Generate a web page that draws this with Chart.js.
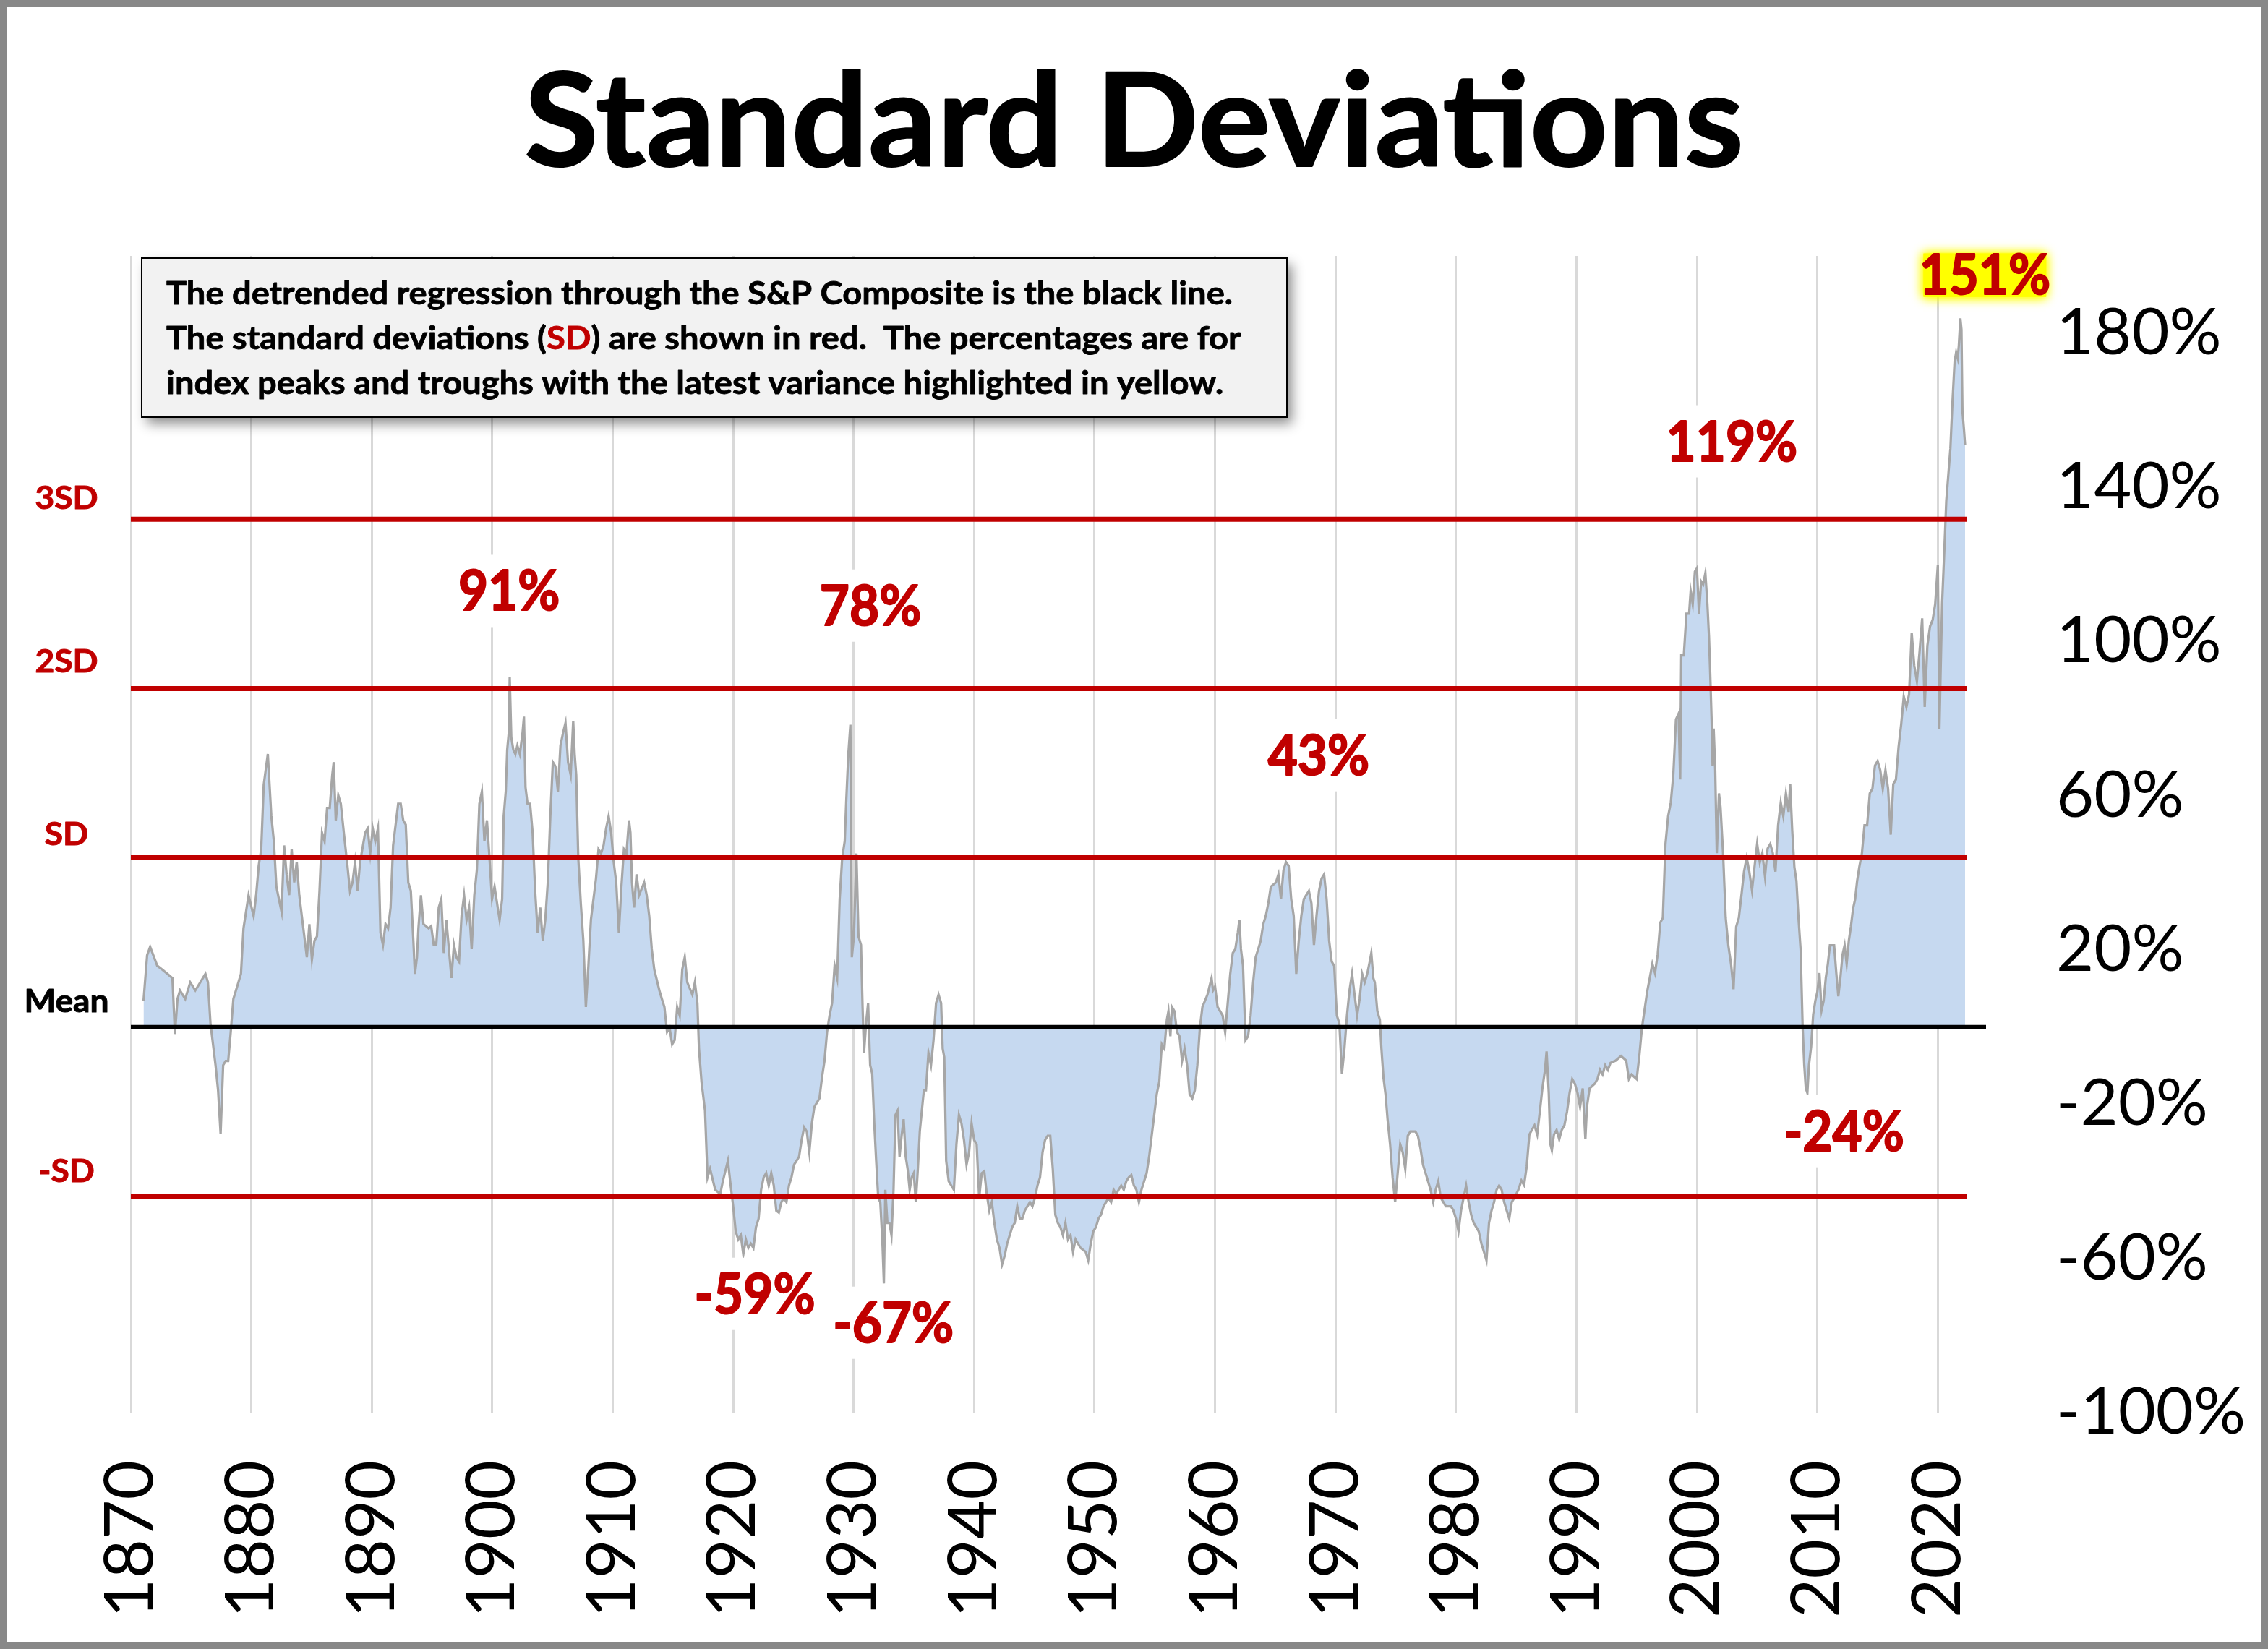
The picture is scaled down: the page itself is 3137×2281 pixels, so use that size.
<!DOCTYPE html>
<html><head><meta charset="utf-8">
<script src="https://cdn.jsdelivr.net/npm/chart.js@4.4.1/dist/chart.umd.min.js"></script>
<style>html,body{margin:0;padding:0;background:#fff;overflow:hidden}canvas{display:block}</style>
</head><body>
<canvas id="c" width="3137" height="2281" style="width:3137px;height:2281px"></canvas>
<script>
// ---- DATA ----
const years = [
1871.05,1871.35,1871.6,1872.19,1872.61,1873.03,1873.45,1873.66,1873.87,1874.08,1874.51,1874.93,1875.35,1875.98,1876.19,1876.4,1876.61,1876.82,1877.03,1877.24,1877.45,1877.66,1877.87,1878.08,1878.29,1878.51,1878.93,1879.14,1879.35,1879.77,
1880.19,1880.4,1880.61,1880.82,1881.03,1881.37,1881.66,1881.87,1882.08,1882.29,1882.51,1882.72,1882.93,1883.14,1883.35,1883.56,1883.77,1883.98,1884.4,1884.61,1884.82,1885.03,1885.24,1885.45,1885.66,1885.87,1886.08,1886.29,1886.51,1886.72,1886.84,1887.01,1887.22,1887.43,1887.68,1887.98,1888.19,1888.4,1888.61,1888.82,1889.03,1889.45,1889.66,1889.87,
1890.08,1890.29,1890.51,1890.72,1890.93,1891.14,1891.35,1891.56,1891.77,1891.98,1892.19,1892.4,1892.61,1892.82,1893.03,1893.24,1893.45,1893.58,1893.75,1893.87,1894.08,1894.29,1894.72,1894.93,1895.14,1895.35,1895.56,1895.77,1895.98,1896.19,1896.4,1896.61,1896.82,1897.03,1897.24,1897.45,1897.66,1897.87,1898.08,1898.29,1898.51,1898.72,1898.93,1899.14,1899.35,1899.56,1899.77,1899.98,
1900.19,1900.4,1900.61,1900.82,1900.95,1901.12,1901.24,1901.37,1901.45,1901.58,1901.75,1901.92,1902.08,1902.29,1902.51,1902.63,1902.76,1902.93,1903.14,1903.35,1903.56,1903.77,1903.98,1904.19,1904.4,1904.61,1904.82,1905.03,1905.24,1905.45,1905.66,1905.87,1906.08,1906.29,1906.51,1906.72,1906.84,1906.97,1907.14,1907.35,1907.56,1907.77,1907.98,1908.19,1908.61,1908.82,1909.03,1909.24,1909.45,1909.66,1909.87,
1910.08,1910.29,1910.51,1910.72,1910.93,1911.14,1911.35,1911.47,1911.6,1911.77,1911.98,1912.19,1912.61,1912.82,1913.03,1913.24,1913.45,1913.87,1914.08,1914.29,1914.51,1914.72,1914.93,1915.14,1915.35,1915.56,1915.77,1915.98,1916.19,1916.61,1916.82,1917.03,1917.16,1917.37,1917.66,1917.87,1918.08,1918.51,1918.93,1919.14,1919.56,1919.79,
1920.0,1920.21,1920.42,1920.63,1920.84,1921.05,1921.26,1921.47,1921.68,1921.89,1922.11,1922.32,1922.53,1922.74,1922.95,1923.16,1923.37,1923.58,1923.79,1924.0,1924.21,1924.42,1924.63,1924.84,1925.05,1925.26,1925.47,1925.68,1925.89,1926.11,1926.32,1926.53,1926.74,1927.16,1927.37,1927.58,1927.79,1928.0,1928.21,1928.42,1928.63,1928.84,1929.05,1929.26,1929.39,1929.56,1929.73,1929.85,
1930.02,1930.23,1930.4,1930.61,1930.74,1930.86,1931.03,1931.2,1931.37,1931.54,1931.71,1931.87,1932.04,1932.21,1932.38,1932.51,1932.63,1932.8,1932.97,1933.14,1933.31,1933.47,1933.64,1933.81,1933.98,1934.15,1934.32,1934.48,1934.65,1934.82,1934.99,1935.16,1935.33,1935.49,1935.66,1935.83,1936.0,1936.21,1936.42,1936.63,1936.84,1937.05,1937.26,1937.39,1937.52,1937.6,1937.68,1937.89,1938.32,1938.53,1938.74,1938.95,1939.16,1939.37,1939.58,1939.79,
1940.0,1940.21,1940.42,1940.63,1940.84,1941.05,1941.26,1941.47,1941.68,1941.89,1942.11,1942.32,1942.53,1942.74,1942.95,1943.16,1943.37,1943.58,1943.79,1944.0,1944.21,1944.42,1944.63,1944.84,1945.05,1945.26,1945.47,1945.68,1945.89,1946.11,1946.32,1946.53,1946.74,1946.95,1947.16,1947.37,1947.58,1947.79,1948.0,1948.21,1948.42,1948.84,1949.26,1949.47,1949.68,1949.89,
1950.11,1950.32,1950.53,1950.74,1950.95,1951.16,1951.37,1951.58,1951.79,1952.0,1952.21,1952.42,1952.63,1952.84,1953.05,1953.26,1953.47,1953.68,1953.89,1954.11,1954.32,1954.53,1954.74,1954.95,1955.16,1955.37,1955.58,1955.79,1956.0,1956.13,1956.29,1956.42,1956.63,1956.84,1957.05,1957.26,1957.47,1957.68,1957.89,1958.11,1958.32,1958.53,1958.74,1958.95,1959.37,1959.71,1959.83,
1960.0,1960.21,1960.63,1960.84,1961.05,1961.26,1961.47,1961.68,1961.89,1962.02,1962.15,1962.32,1962.53,1962.74,1962.95,1963.16,1963.37,1963.58,1963.79,1964.0,1964.21,1964.42,1964.63,1965.05,1965.26,1965.47,1965.68,1965.89,1966.11,1966.32,1966.53,1966.74,1966.95,1967.16,1967.37,1967.79,1968.0,1968.21,1968.42,1968.63,1968.84,1969.05,1969.26,1969.47,1969.68,1969.89,
1970.11,1970.32,1970.53,1970.74,1970.95,1971.16,1971.37,1971.58,1971.79,1972.0,1972.21,1972.42,1972.63,1972.84,1972.97,1973.14,1973.26,1973.47,1973.68,1973.81,1973.98,1974.15,1974.32,1974.53,1974.74,1974.95,1975.16,1975.37,1975.58,1975.79,1976.0,1976.21,1976.63,1976.84,1977.05,1977.26,1977.68,1977.89,1978.11,1978.32,1978.53,1978.74,1979.16,1979.58,1979.79,
1980.0,1980.21,1980.42,1980.63,1980.84,1981.05,1981.26,1981.47,1981.89,1982.11,1982.32,1982.53,1982.74,1982.95,1983.16,1983.37,1983.58,1983.79,1984.0,1984.21,1984.42,1984.63,1984.84,1985.18,1985.43,1985.65,1985.87,1986.09,1986.3,1986.52,1986.74,1986.96,1987.17,1987.39,1987.52,1987.7,1987.83,1987.96,1988.13,1988.35,1988.57,1988.78,1989.0,1989.22,1989.43,1989.65,1989.87,
1990.09,1990.3,1990.52,1990.74,1990.87,1991.09,1991.52,1991.74,1991.96,1992.17,1992.39,1992.61,1992.83,1993.26,1993.7,1994.13,1994.35,1994.57,1995.0,1995.22,1995.43,1995.65,1995.87,1996.09,1996.3,1996.52,1996.74,1996.96,1997.17,1997.39,1997.61,1997.83,1998.04,1998.26,1998.48,1998.61,1998.7,1998.91,1999.13,1999.35,1999.48,1999.65,1999.83,
2000.0,2000.17,2000.35,2000.52,2000.7,2000.87,2001.0,2001.09,2001.22,2001.3,2001.39,2001.52,2001.65,2001.83,2001.96,2002.17,2002.39,2002.61,2002.83,2003.04,2003.26,2003.48,2003.7,2003.91,2004.13,2004.35,2004.57,2004.78,2005.0,2005.22,2005.43,2005.65,2005.87,2006.09,2006.3,2006.52,2006.74,2006.96,2007.17,2007.39,2007.61,2007.74,2007.91,2008.09,2008.26,2008.43,2008.61,2008.78,2008.91,2009.04,2009.17,2009.3,2009.48,2009.65,2009.83,
2010.0,2010.17,2010.35,2010.52,2010.7,2010.87,2011.04,2011.39,2011.57,2011.74,2011.91,2012.09,2012.26,2012.43,2012.61,2012.78,2012.96,2013.13,2013.3,2013.48,2013.7,2013.91,2014.13,2014.35,2014.57,2014.78,2015.0,2015.22,2015.43,2015.65,2015.87,2016.09,2016.3,2016.52,2016.74,2016.96,2017.17,2017.39,2017.61,2017.83,2018.04,2018.26,2018.48,2018.7,2018.91,2019.13,2019.35,2019.57,2019.78,
2020.0,2020.13,2020.35,2020.52,2020.7,2020.87,2021.04,2021.22,2021.39,2021.52,2021.65,2021.74,2021.87,2021.96,2022.04,2022.17,2022.26
];
const deviation = [
6.8,18.6,20.8,15.9,14.9,13.8,12.7,-1.8,7.3,9.5,7.3,11.6,9.5,12.7,13.8,11.6,0.9,-4.5,-9.9,-16.4,-27.7,-9.9,-8.8,-8.8,-1.3,7.3,11.6,13.8,25.6,34.2,
28.8,34.2,41.8,46.1,62.8,70.8,54.7,48.2,36.4,33.2,29.9,47.1,39.6,34.2,46.1,37.5,42.8,34.2,23.5,18.1,26.7,17.5,22.4,23.5,35.3,50.4,48.2,56.8,56.8,65.4,68.7,53.6,60.1,57.9,50.4,41.8,35.3,37.5,42.8,35.3,42.8,50.4,51.5,45.0,
51.5,48.2,51.5,24.5,21.3,26.7,25.6,31.0,47.1,52.5,57.9,57.9,53.6,52.5,37.5,35.3,22.4,13.8,18.1,25.6,34.2,26.7,25.6,26.2,21.3,21.3,31.0,33.2,19.2,27.8,20.2,12.7,21.3,18.1,17.0,28.8,34.2,27.8,31.0,20.2,34.2,40.7,57.9,61.1,48.2,53.6,43.9,33.2,
36.4,32.1,27.8,33.2,54.7,61.1,71.9,76.2,90.7,75.1,71.9,70.8,73.0,70.8,76.2,80.5,62.2,57.9,57.9,50.4,35.3,24.5,31.0,22.4,27.8,37.5,54.7,68.7,67.6,61.1,73.0,76.2,78.9,68.7,65.4,79.4,70.8,65.4,43.9,32.1,22.4,5.2,15.9,27.8,38.5,46.1,45.0,47.1,51.5,54.7,50.4,
42.8,37.5,24.5,36.4,46.1,45.0,53.6,50.4,37.5,31.0,39.6,34.2,37.5,34.2,28.8,20.2,14.9,9.5,7.3,5.2,-1.3,-0.2,-4.5,-3.4,5.2,3.0,14.9,18.1,11.6,8.4,11.6,6.2,-5.6,-14.2,-21.7,-39.0,-36.8,-42.2,-43.3,-40.0,-34.7,-41.1,
-46.5,-53.0,-55.1,-54.0,-59.0,-55.1,-57.3,-56.2,-57.3,-51.9,-49.7,-42.2,-39.0,-37.9,-41.1,-37.9,-41.1,-47.6,-48.1,-45.4,-44.3,-45.4,-41.1,-39.0,-35.7,-34.7,-33.6,-29.3,-26.0,-27.1,-32.5,-25.0,-20.7,-18.5,-13.1,-8.8,-1.3,3.0,6.2,15.9,12.7,33.2,43.9,48.2,59.0,70.8,78.4,18.1,
23.5,45.0,23.5,21.3,5.2,-6.7,0.9,6.2,-9.9,-12.1,-25.0,-34.7,-44.3,-45.4,-55.1,-66.5,-42.2,-50.8,-50.8,-54.0,-42.2,-22.8,-21.7,-33.6,-28.2,-23.9,-33.6,-36.8,-42.2,-39.0,-37.9,-45.4,-36.8,-27.1,-21.7,-16.4,-16.4,-6.7,-9.9,-3.4,6.2,8.4,6.2,-5.6,-7.8,-20.7,-34.7,-40.0,-42.2,-30.4,-22.8,-25.0,-29.3,-35.7,-32.5,-25.0,
-29.3,-30.4,-44.3,-37.9,-37.4,-43.3,-47.6,-45.4,-50.8,-55.1,-57.3,-61.6,-59.4,-56.2,-54.0,-51.9,-50.8,-46.5,-49.7,-49.7,-47.6,-46.5,-45.4,-46.5,-44.3,-41.1,-39.0,-32.5,-29.3,-28.2,-28.2,-36.8,-48.7,-50.8,-51.9,-54.0,-50.8,-55.1,-54.0,-58.3,-55.1,-57.3,-58.3,-60.5,-56.2,-53.0,
-51.9,-49.7,-48.7,-46.5,-45.4,-44.3,-45.4,-42.2,-43.3,-42.2,-41.1,-42.2,-40.0,-39.0,-38.4,-41.1,-42.2,-45.4,-42.2,-40.0,-37.9,-33.6,-28.2,-22.8,-17.4,-14.2,-4.5,-5.6,1.9,4.1,-2.4,5.2,4.1,-1.3,-2.4,-8.8,-5.6,-9.9,-17.4,-18.5,-16.4,-9.9,-0.2,5.2,8.4,12.7,9.5,
10.5,5.2,3.0,-1.3,6.2,13.8,19.2,20.2,24.5,27.8,20.2,15.9,-3.4,-2.4,3.0,11.6,18.1,20.2,22.4,26.7,28.8,32.1,36.4,37.5,39.6,33.2,40.7,42.8,41.8,33.2,28.8,13.8,22.4,28.8,33.2,35.3,32.1,21.3,28.8,35.3,38.5,39.6,33.2,22.4,17.0,15.9,
3.0,0.9,-12.1,-5.6,3.0,9.5,13.8,8.4,3.0,7.3,13.8,11.6,13.8,17.0,19.2,12.7,11.6,4.1,1.9,-5.6,-13.1,-17.4,-23.9,-30.4,-39.0,-45.4,-37.9,-30.4,-32.5,-36.8,-28.2,-27.1,-27.1,-28.2,-31.4,-35.7,-40.0,-42.2,-45.4,-42.2,-40.0,-44.3,-46.5,-46.5,-47.6,
-49.7,-53.0,-47.6,-44.3,-41.1,-45.4,-48.7,-50.8,-53.0,-56.2,-58.3,-60.5,-50.8,-47.6,-45.4,-42.2,-41.1,-42.2,-45.4,-47.6,-49.7,-45.4,-44.3,-42.2,-39.8,-41.0,-36.2,-27.9,-26.7,-25.5,-27.9,-21.9,-15.9,-11.1,-6.3,-17.1,-30.3,-32.0,-27.9,-26.7,-29.1,-26.7,-25.5,-21.9,-17.1,-13.5,-14.7,
-17.1,-20.7,-15.9,-29.1,-20.7,-15.9,-14.7,-13.5,-11.1,-12.3,-9.9,-11.1,-9.3,-8.7,-7.5,-8.7,-13.5,-12.3,-13.5,-7.5,-0.4,4.4,9.2,12.8,16.4,14.0,18.8,27.1,28.3,47.5,54.7,58.2,65.4,79.8,81.3,64.2,96.4,96.4,107.2,107.2,113.1,109.7,118.1,
119.0,107.2,115.6,114.8,117.7,109.7,101.4,93.0,79.6,67.8,77.4,66.6,45.1,60.6,57.0,45.1,28.3,21.1,16.4,9.8,26.0,28.3,34.3,40.3,43.9,40.3,35.5,41.5,47.5,42.7,45.1,39.1,46.3,47.5,45.1,40.3,52.3,58.2,54.7,60.6,55.8,63.0,51.1,41.5,37.9,28.3,20.0,-0.4,-9.9,-15.9,-17.1,-9.9,-5.1,3.2,6.8,
9.2,14.0,4.4,6.8,12.8,16.4,21.2,21.2,14.0,8.0,12.8,18.8,21.2,16.4,22.4,26.0,30.7,33.1,37.9,41.5,45.1,52.3,52.3,60.6,61.8,67.8,69.0,66.6,61.8,66.6,61.8,49.9,63.0,64.2,72.6,78.6,85.7,83.0,86.3,102.2,93.8,89.7,97.2,106.0,83.0,98.9,103.9,105.6,109.7,
119.8,77.4,109.7,122.3,136.5,143.2,150.0,162.5,172.5,175.0,173.4,176.7,183.8,180.9,159.9,154.9,151.0
];
const xTickYears = [1870,1880,1890,1900,1910,1920,1930,1940,1950,1960,1970,1980,1990,2000,2010,2020];
const yTickValues = [-100,-60,-20,20,60,100,140,180];
const sdPercent = 43.9;
const sdLineNames = ['3SD','2SD','SD','Mean','-SD'];
const sdMultiples = [3,2,1,0,-1];
const sdLineStart = 1870, sdLineEnd = 2022.4, meanLineEnd = 2024;
const peakLabels = ['91%','78%','43%','119%','151%','-59%','-67%','-24%'];
const peakLabelYears = [1901.4,1931.4,1968.6,2002.9,2023.9,1921.8,1933.3,2012.2];
const peakLabelLevels = [113.1,109.3,70.5,151.9,195.2,-69.2,-76.7,-27.0];
const latestLabel = '151%';
const noteLines = [
  [['The detrended regression through the S&P Composite is the black line.','#000']],
  [['The standard deviations (','#000'],['SD','#C00000'],[') are shown in red.  The percentages are for','#000']],
  [['index peaks and troughs with the latest variance highlighted in yellow.','#000']]
];
const titleText = 'Standard Deviations';

// ---- CHART ----
const series = years.map((x,i)=>({x:x, y:deviation[i]}));
const refDatasets = sdMultiples.map((m,i)=>({
  label: sdLineNames[i],
  data: [{x:sdLineStart, y:m*sdPercent},{x:(m===0?meanLineEnd:sdLineEnd), y:m*sdPercent}],
  borderColor: m===0 ? '#000000' : '#C00000',
  borderWidth: m===0 ? 6 : 7,
  pointRadius: 0, fill: false, order: 1
}));

function heavyText(c, text, color, stroke){
  c.fillStyle = color; c.fillText(text, 0, 0);
  if (stroke) { c.strokeStyle = color; c.lineWidth = stroke; c.lineJoin = 'round'; c.strokeText(text, 0, 0); }
}

const labelGaps = [14, 22, 18, 21, 20];

const decor = {
  id: 'decor',
  beforeDraw(chart){
    const c = chart.ctx; c.save(); c.fillStyle = '#fff'; c.fillRect(0,0,chart.width,chart.height); c.restore();
  },
  afterDraw(chart){
    const c = chart.ctx, xs = chart.scales.x, ys = chart.scales.y, area = chart.chartArea;
    // Title
    c.save();
    c.font = 'bold 181px Lato';
    const sxT = 1687 / c.measureText(titleText).width;
    c.translate(chart.width/2, 230); c.scale(sxT, 1);
    c.textAlign = 'center';
    heavyText(c, titleText, '#000', 2);
    c.restore();

    // Left SD labels
    c.save();
    c.font = 'bold 44px Lato';
    const sxL = 117 / c.measureText('Mean').width;
    c.restore();
    sdMultiples.forEach((m,i)=>{
      const y = ys.getPixelForValue(m*sdPercent) - labelGaps[i];
      c.save(); c.font = 'bold 44px Lato';
      c.translate(area.left - 89, y); c.scale(sxL,1);
      c.textAlign = 'center';
      heavyText(c, sdLineNames[i], m===0 ? '#000' : '#C00000', 1);
      c.restore();
    });

    // Peak labels
    c.save(); c.font = 'bold 76px Lato';
    const sxP = 167 / c.measureText('-59%').width;
    c.restore();
    peakLabels.forEach((t,i)=>{
      const px = xs.getPixelForValue(peakLabelYears[i]);
      const py = ys.getPixelForValue(peakLabelLevels[i]);
      c.save(); c.font = 'bold 76px Lato';
      const w = c.measureText(t).width * sxP;
      if (t === latestLabel) {
        c.shadowColor = '#FFFF00'; c.shadowBlur = 14;
        c.fillStyle = '#FFFF00';
        c.fillRect(px - w/2 + 6, py - 29, w - 12, 60);
        c.fillRect(px - w/2 + 6, py - 29, w - 12, 60);
        c.shadowBlur = 0;
      } else {
        c.fillStyle = '#fff';
        c.fillRect(px - w/2 - 10, py - 50, w + 20, 100);
      }
      c.translate(px, py + 27); c.scale(sxP,1);
      c.textAlign = 'center';
      heavyText(c, t, '#C00000', 2);
      c.restore();
    });

    // Note box
    c.save();
    c.shadowColor = 'rgba(0,0,0,0.45)'; c.shadowBlur = 16; c.shadowOffsetX = 7; c.shadowOffsetY = 9;
    c.fillStyle = '#F2F2F2'; c.fillRect(196, 357, 1584, 220);
    c.shadowColor = 'transparent';
    c.strokeStyle = '#000'; c.lineWidth = 2; c.strokeRect(196, 357, 1584, 220);
    c.font = 'bold 44px Lato';
    const l1 = noteLines[0].map(s=>s[0]).join('');
    const sxN = 1475 / c.measureText(l1).width;
    noteLines.forEach((segs, li)=>{
      let x = 230; const y = 421 + li*62;
      segs.forEach(([txt,col])=>{
        c.save(); c.translate(x, y); c.scale(sxN,1);
        c.textAlign = 'left'; heavyText(c, txt, col, 0.8); c.restore();
        x += c.measureText(txt).width * sxN;
      });
    });
    c.restore();

    // Outer border
    c.save(); c.strokeStyle = '#888888'; c.lineWidth = 9;
    c.strokeRect(4.5, 4.5, chart.width-9, chart.height-9); c.restore();
  }
};

new Chart(document.getElementById('c').getContext('2d'), {
  type: 'line',
  data: {
    datasets: [...refDatasets, {
      label: 'Detrended S&P Composite',
      data: series,
      borderColor: '#A6A6A6', borderWidth: 3.25,
      backgroundColor: 'rgb(198,217,240)',
      fill: 'origin', pointRadius: 0, tension: 0, order: 2
    }]
  },
  options: {
    responsive: false, animation: false, devicePixelRatio: 1,
    layout: { padding: { left: 181, top: 354, right: 0, bottom: 0 } },
    plugins: { legend: { display: false }, tooltip: { enabled: false }, title: { display: false } },
    scales: {
      x: {
        type: 'linear', min: 1870, max: 2024,
        afterBuildTicks: s => { s.ticks = xTickYears.map(v => ({ value: v })); },
        afterFit: s => { s.height = 327; },
        grid: { color: '#D9D9D9', lineWidth: 3, drawTicks: false },
        border: { display: false },
        ticks: { autoSkip: false, minRotation: 90, maxRotation: 90, padding: 66, color: '#000',
                 font: { family: 'Lato', size: 94 }, callback: v => String(v) }
      },
      y: {
        position: 'right', min: -100, max: 200,
        afterBuildTicks: s => { s.ticks = yTickValues.map(v => ({ value: v })); },
        afterFit: s => { s.width = 390; },
        grid: { display: false, drawTicks: false },
        border: { display: false },
        ticks: { padding: 97, color: '#000', font: { family: 'Lato', size: 90 }, callback: v => v + '%' }
      }
    }
  },
  plugins: [decor]
});
</script>
</body></html>
